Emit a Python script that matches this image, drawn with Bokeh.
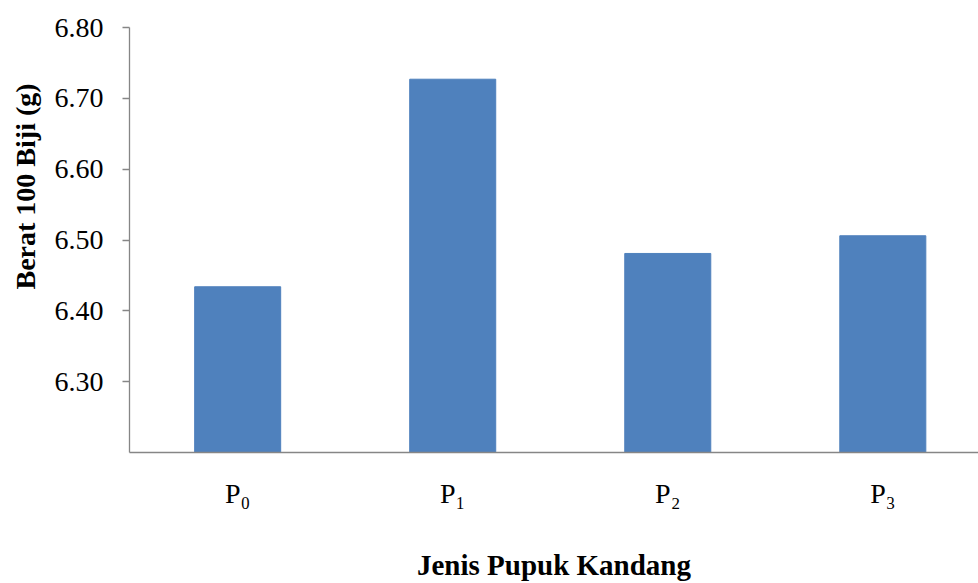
from bokeh.plotting import figure
from bokeh.models import Range1d, FixedTicker, Title, ColumnDataSource, PrintfTickFormatter
from bokeh.embed import file_html
from bokeh.resources import INLINE

categories = ["P₀", "P₁", "P₂", "P₃"]
berat = [6.434, 6.727, 6.481, 6.506]
y_ticks = [6.30, 6.40, 6.50, 6.60, 6.70, 6.80]
y_min, y_max = 6.20, 6.80
x_title = "Jenis Pupuk Kandang"
y_title = "Berat 100 Biji (g)"

pos = list(range(len(categories)))
src = ColumnDataSource(dict(x=pos, top=berat, label=categories))

serif = "Liberation Serif"
axis_col = "#868686"

p = figure(width=978, height=583, output_backend="svg", toolbar_location=None,
           x_range=Range1d(-0.503, 3.445), y_range=Range1d(y_min, y_max),
           min_border_left=128, min_border_right=0, min_border_top=27,
           min_border_bottom=130)
p.vbar(x="x", top="top", bottom=y_min, width=0.4, source=src,
       fill_color="#4F81BD", line_color="#4F81BD")

p.outline_line_color = None
p.xgrid.visible = False
p.ygrid.visible = False
p.background_fill_color = "white"
p.border_fill_color = "white"

ya = p.yaxis[0]
ya.ticker = FixedTicker(ticks=y_ticks)
ya.formatter = PrintfTickFormatter(format="%.2f")
ya.major_tick_out = 7
ya.major_tick_in = 0
ya.minor_tick_out = 0
ya.minor_tick_in = 0
ya.axis_line_color = axis_col
ya.axis_line_width = 1.3
ya.major_tick_line_color = axis_col
ya.major_tick_line_width = 1.3
ya.major_label_text_font = serif
ya.major_label_text_font_size = "28px"
ya.major_label_text_color = "black"
ya.major_label_standoff = 19

xa = p.xaxis[0]
xa.ticker = FixedTicker(ticks=pos)
xa.major_label_overrides = {i: c for i, c in enumerate(categories)}
xa.major_tick_out = 0
xa.major_tick_in = 0
xa.minor_tick_out = 0
xa.minor_tick_in = 0
xa.axis_line_color = axis_col
xa.axis_line_width = 1.3
xa.major_label_text_font = serif
xa.major_label_text_font_size = "28px"
xa.major_label_text_color = "black"
xa.major_label_standoff = 25
xa.axis_label = x_title
xa.axis_label_text_font = serif
xa.axis_label_text_font_size = "29px"
xa.axis_label_text_font_style = "bold"
xa.axis_label_text_color = "black"
xa.axis_label_standoff = 37

p.add_layout(Title(text=y_title, align="left", offset=163, text_font=serif,
                   text_font_size="28px", text_font_style="bold",
                   text_color="black", standoff=18, vertical_align="top"), "left")

open("out.html", "w").write(file_html(p, INLINE))
